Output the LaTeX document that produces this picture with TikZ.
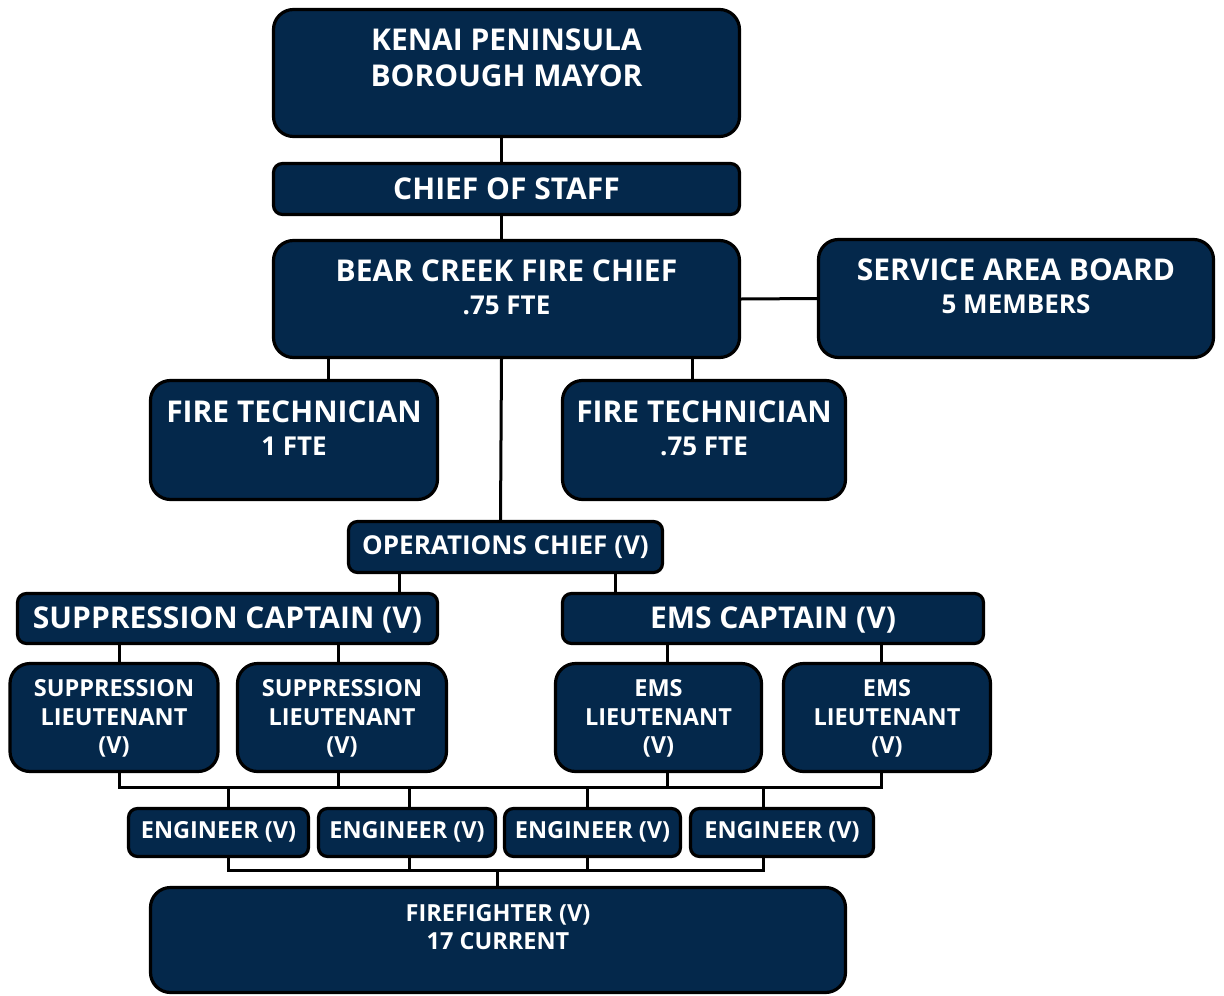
\documentclass[tikz,border=0pt]{standalone}
\usepackage{fontspec}
\setmainfont{Open Sans}
\usetikzlibrary{positioning}
\definecolor{navy}{RGB}{4,40,75}
\newcommand{\midtxt}{\fontsize{26}{32}\selectfont}
\newcommand{\smalltxt}{\fontsize{23.5}{28.5}\selectfont}

\begin{document}
\begin{tikzpicture}[x=1pt,y=-1pt]
	\tikzstyle{box} = [draw=black,line width=3.2pt,fill=navy,rounded corners=20pt]
	\tikzstyle{slim} = [box,rounded corners=9pt]
	\tikzstyle{big} = [text=white,font=\fontsize{30}{36}\selectfont\bfseries,align=center]
	\tikzstyle{mid} = [text=white,font=\midtxt\bfseries,align=center]
	\tikzstyle{small} = [text=white,font=\smalltxt\bfseries,align=center]
	\tikzstyle{link} = [line width=3pt]

	\useasboundingbox (0,0) rectangle (1224,996);

	% boxes
	\node[box,minimum width=466,minimum height=127] at (506.5,73) (mayor) {};
	\node[slim,minimum width=466,minimum height=51] at (506.5,189) (cos) {};
	\node[box,minimum width=466,minimum height=117] at (506.5,299) (chief) {};
	\node[box,minimum width=395,minimum height=118] at (1016,298.5) (board) {};
	\node[box,minimum width=287,minimum height=119] at (294,440) (tech1) {};
	\node[box,minimum width=283,minimum height=119] at (704,440) (tech2) {};
	\node[slim,minimum width=314,minimum height=51] at (505.5,547) (ops) {};
	\node[slim,minimum width=420,minimum height=50] at (227.5,618.5) (scap) {};
	\node[slim,minimum width=421,minimum height=50] at (773,618.5) (ecap) {};
	\node[box,minimum width=208,minimum height=108] at (114,717.5) (slt1) {};
	\node[box,minimum width=209,minimum height=108] at (342,717.5) (slt2) {};
	\node[box,minimum width=206,minimum height=108] at (658.5,717.5) (elt1) {};
	\node[box,minimum width=207,minimum height=108] at (887,717.5) (elt2) {};
	\node[slim,minimum width=180,minimum height=48] at (218.5,832.5) (eng1) {};
	\node[slim,minimum width=177,minimum height=48] at (407,832.5) (eng2) {};
	\node[slim,minimum width=176,minimum height=48] at (592.5,832.5) (eng3) {};
	\node[slim,minimum width=183,minimum height=48] at (782,832.5) (eng4) {};
	\node[box,minimum width=695,minimum height=105] at (498,940) (ff) {};

	% texts
	\node[big] at (506.5,58) (mayor-t) {KENAI PENINSULA\\BOROUGH MAYOR};
	\node[big] at (506.5,189) (cos-t) {CHIEF OF STAFF};
	\node[big] at (506.5,287) (chief-t) {BEAR CREEK FIRE CHIEF\\[-3pt]{\midtxt .75 FTE}};
	\node[big] at (1016,286) (board-t) {SERVICE AREA BOARD\\[-3pt]{\midtxt 5 MEMBERS}};
	\node[big] at (294,428) (tech1-t) {FIRE TECHNICIAN\\[-3pt]{\midtxt 1 FTE}};
	\node[big] at (704,428) (tech2-t) {FIRE TECHNICIAN\\[-3pt]{\midtxt .75 FTE}};
	\node[mid] at (505.5,547) (ops-t) {OPERATIONS CHIEF (V)};
	\node[big] at (227.5,620) (scap-t) {SUPPRESSION CAPTAIN (V)};
	\node[big] at (773,620) (ecap-t) {EMS CAPTAIN (V)};
	\node[small] at (114,718.5) (slt1-t) {SUPPRESSION\\LIEUTENANT\\(V)};
	\node[small] at (342,718.5) (slt2-t) {SUPPRESSION\\LIEUTENANT\\(V)};
	\node[small] at (658.5,718.5) (elt1-t) {EMS\\LIEUTENANT\\(V)};
	\node[small] at (887,718.5) (elt2-t) {EMS\\LIEUTENANT\\(V)};
	\node[small] at (218.5,832) (eng1-t) {ENGINEER (V)};
	\node[small] at (407,832) (eng2-t) {ENGINEER (V)};
	\node[small] at (592.5,832) (eng3-t) {ENGINEER (V)};
	\node[small] at (782,832) (eng4-t) {ENGINEER (V)};
	\node[small] at (498,927) (ff-t) {FIREFIGHTER (V)\\17 CURRENT};

	% connectors
	\coordinate (bus1) at (0,787);
	\coordinate (bus2) at (0,870);
	\begin{scope}[link]
		\draw ([xshift=-5]mayor.south) -- ([xshift=-5]cos.north);
		\draw ([xshift=-5]cos.south) -- ([xshift=-5]chief.north);
		\draw (chief.east) -- (board.west);
		\draw ([xshift=34]tech1.north) -- ([xshift=34]tech1.north |- chief.south);
		\draw ([xshift=-12]tech2.north) -- ([xshift=-12]tech2.north |- chief.south);
		\draw ([xshift=-5]chief.south) -- ([xshift=-5]ops.north);
		\draw ([xshift=-106]ops.south) -- ([xshift=-106]ops.south |- scap.north);
		\draw ([xshift=110]ops.south) -- ([xshift=110]ops.south |- ecap.north);
		\draw ([xshift=5]slt1.north) -- ([xshift=5]slt1.north |- scap.south);
		\draw ([xshift=-4]slt2.north) -- ([xshift=-4]slt2.north |- scap.south);
		\draw ([xshift=9]elt1.north) -- ([xshift=9]elt1.north |- ecap.south);
		\draw ([xshift=-6]elt2.north) -- ([xshift=-6]elt2.north |- ecap.south);
		% lieutenants to engineers
		\draw ([xshift=5]slt1.south) |- ([xshift=-6]elt2.south |- bus1) -- ([xshift=-6]elt2.south);
		\draw ([xshift=-4]slt2.south) -- ([xshift=-4]slt2.south |- bus1);
		\draw ([xshift=9]elt1.south) -- ([xshift=9]elt1.south |- bus1);
		\draw ([xshift=10]eng1.north |- bus1) -- ([xshift=10]eng1.north);
		\draw ([xshift=2]eng2.north |- bus1) -- ([xshift=2]eng2.north);
		\draw ([xshift=-5]eng3.north |- bus1) -- ([xshift=-5]eng3.north);
		\draw ([xshift=-19]eng4.north |- bus1) -- ([xshift=-19]eng4.north);
		% engineers to firefighter
		\draw ([xshift=10]eng1.south) |- ([xshift=-19]eng4.south |- bus2) -- ([xshift=-19]eng4.south);
		\draw ([xshift=2]eng2.south) -- ([xshift=2]eng2.south |- bus2);
		\draw ([xshift=-5]eng3.south) -- ([xshift=-5]eng3.south |- bus2);
		\draw ([xshift=-1]ff.north |- bus2) -- ([xshift=-1]ff.north);
	\end{scope}
\end{tikzpicture}
\end{document}
